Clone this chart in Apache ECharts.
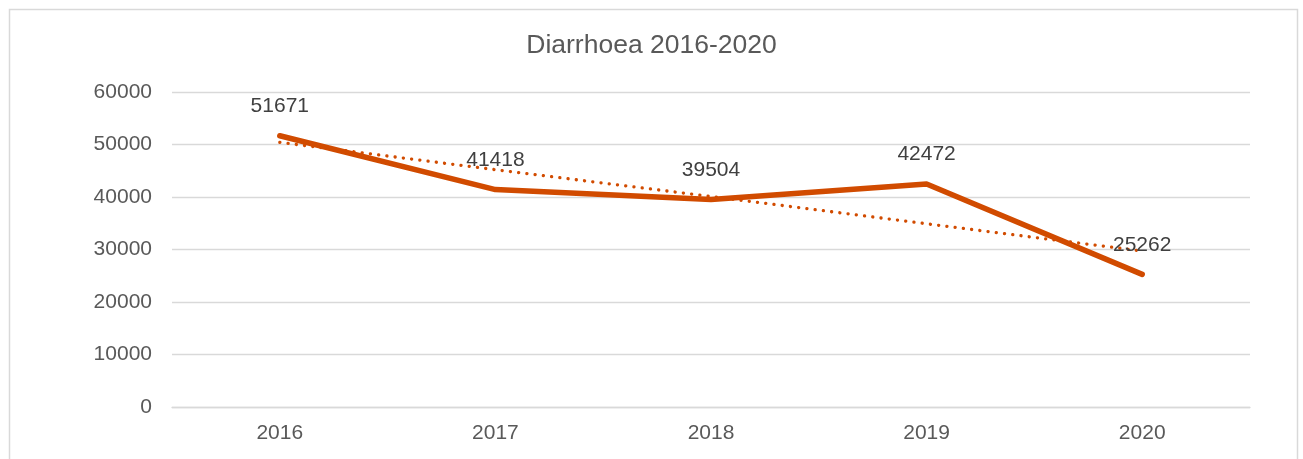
<!DOCTYPE html>
<html><head><meta charset="utf-8">
<script src="https://cdn.jsdelivr.net/npm/echarts@6/dist/echarts.min.js"></script>
<style>html,body{margin:0;padding:0;background:#fff}#c{width:1303px;height:459px}</style>
</head><body><div id="c"></div>
<script>
var categories = ['2016', '2017', '2018', '2019', '2020'];
var cases = [51671, 41418, 39504, 42472, 25262];
var trend = [50400, 45200, 40100, 34900, 29700];
var yTicks = [0, 10000, 20000, 30000, 40000, 50000, 60000];

var chart = echarts.init(document.getElementById('c'), null, {renderer: 'canvas'});
var font = 'Liberation Sans, Arial, sans-serif';
chart.setOption({
  animation: false,
  backgroundColor: '#fff',
  graphic: [{type: 'rect', shape: {x: 9.5, y: 9.5, width: 1288, height: 470}, style: {fill: 'none', stroke: '#d9d9d9', lineWidth: 1.5}, z: -1}],
  title: {text: 'Diarrhoea 2016-2020', left: 'center', top: 27, textStyle: {fontFamily: font, fontSize: 26.5, fontWeight: 'normal', color: '#595959'}},
  grid: {left: 172, right: 53, top: 92, bottom: 52, containLabel: false},
  xAxis: {type: 'category', data: categories, boundaryGap: true,
    axisLine: {show: true, lineStyle: {color: '#d9d9d9', width: 1.3}}, axisTick: {show: false},
    axisLabel: {fontFamily: font, fontSize: 21, color: '#595959', margin: 16}},
  yAxis: {type: 'value', min: yTicks[0], max: yTicks[yTicks.length - 1], interval: 10000,
    axisLine: {show: false}, axisTick: {show: false},
    splitLine: {lineStyle: {color: '#d9d9d9', width: 1.3}},
    axisLabel: {fontFamily: font, fontSize: 21, color: '#595959', margin: 20,
      formatter: function (v) { return String(v); }}},
  series: [
    {type: 'line', data: trend, symbol: 'none', silent: true, z: 2,
      lineStyle: {color: '#D14B00', width: 3.3, type: [0.1, 8.2], cap: 'round'}},
    {type: 'line', data: cases, symbol: 'circle', symbolSize: 0.1, showSymbol: true, z: 3,
      itemStyle: {color: '#D14B00'},
      lineStyle: {color: '#D14B00', width: 5.5, cap: 'round', join: 'round'},
      label: {show: true, position: 'top', distance: 19, fontFamily: font, fontSize: 21, color: '#404040'}}
  ]
});
</script></body></html>
